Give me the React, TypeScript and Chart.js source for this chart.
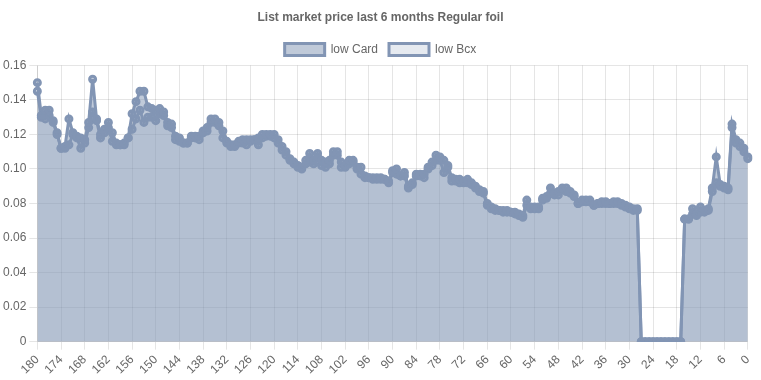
import React, { useEffect, useRef } from "react";
import { Chart, registerables } from "chart.js";

Chart.register(...registerables);

const TITLE = "List market price last 6 months Regular foil";

// days ago, 180 .. 0
const dayLabels: string[] = [];
for (let d = 180; d >= 0; d--) dayLabels.push(String(d));

// low Card, day 180 -> day 0
const lowCard: number[] = [
  0.150, 0.131, 0.134, 0.134, 0.127, 0.120, 0.112, 0.113, 0.129, 0.121, // 180-171
  0.119, 0.118, 0.117, 0.127, 0.152, 0.129, 0.120, 0.123, 0.127, 0.121, // 170-161
  0.115, 0.114, 0.115, 0.118, 0.132, 0.139, 0.145, 0.145, 0.136, 0.135, // 160-151
  0.134, 0.135, 0.133, 0.127, 0.126, 0.119, 0.118, 0.115, 0.115, 0.119, // 150-141
  0.119, 0.119, 0.122, 0.124, 0.129, 0.129, 0.127, 0.122, 0.116, 0.114, // 140-131
  0.114, 0.116, 0.117, 0.117, 0.117, 0.117, 0.118, 0.120, 0.120, 0.120, // 130-121
  0.120, 0.117, 0.113, 0.110, 0.106, 0.104, 0.102, 0.101, 0.105, 0.109, // 120-111
  0.105, 0.109, 0.105, 0.104, 0.105, 0.110, 0.110, 0.104, 0.102, 0.105, // 110-101
  0.105, 0.101, 0.101, 0.096, 0.095, 0.095, 0.095, 0.095, 0.094, 0.093, // 100-91
  0.099, 0.100, 0.096, 0.098, 0.090, 0.092, 0.097, 0.097, 0.097, 0.101, // 90-81
  0.104, 0.108, 0.107, 0.105, 0.102, 0.095, 0.094, 0.094, 0.093, 0.094, // 80-71
  0.092, 0.090, 0.088, 0.087, 0.080, 0.078, 0.077, 0.076, 0.076, 0.076, // 70-61
  0.075, 0.075, 0.074, 0.073, 0.082, 0.078, 0.078, 0.078, 0.083, 0.084, // 60-51
  0.089, 0.086, 0.087, 0.089, 0.089, 0.087, 0.085, 0.080, 0.082, 0.082, // 50-41
  0.082, 0.079, 0.080, 0.081, 0.081, 0.080, 0.081, 0.081, 0.080, 0.079, // 40-31
  0.078, 0.077, 0.077, 0, 0, 0, 0, 0, 0, 0, // 30-21
  0, 0, 0, 0, 0.071, 0.071, 0.077, 0.074, 0.078, 0.076, // 20-11
  0.077, 0.089, 0.107, 0.091, 0.090, 0.089, 0.126, 0.117, 0.115, 0.112, // 10-1
  0.107, // 0
];

// low Bcx, day 180 -> day 0
const lowBcx: number[] = [
  0.145, 0.130, 0.129, 0.131, 0.128, 0.121, 0.112, 0.112, 0.114, 0.120, // 180-171
  0.118, 0.112, 0.115, 0.124, 0.133, 0.128, 0.118, 0.121, 0.124, 0.116, // 170-161
  0.114, 0.114, 0.114, 0.118, 0.123, 0.129, 0.134, 0.127, 0.130, 0.130, // 160-151
  0.128, 0.132, 0.131, 0.125, 0.124, 0.117, 0.116, 0.115, 0.115, 0.118, // 150-141
  0.118, 0.117, 0.121, 0.122, 0.127, 0.127, 0.125, 0.118, 0.115, 0.113, // 140-131
  0.113, 0.115, 0.115, 0.114, 0.116, 0.117, 0.114, 0.118, 0.119, 0.119, // 130-121
  0.118, 0.115, 0.111, 0.108, 0.105, 0.103, 0.101, 0.100, 0.103, 0.104, // 120-111
  0.103, 0.107, 0.102, 0.101, 0.103, 0.108, 0.108, 0.101, 0.101, 0.103, // 110-101
  0.104, 0.100, 0.097, 0.095, 0.095, 0.094, 0.094, 0.094, 0.094, 0.092, // 100-91
  0.098, 0.097, 0.096, 0.096, 0.089, 0.091, 0.096, 0.096, 0.095, 0.100, // 90-81
  0.102, 0.105, 0.105, 0.098, 0.101, 0.093, 0.093, 0.092, 0.092, 0.092, // 80-71
  0.091, 0.089, 0.087, 0.086, 0.079, 0.077, 0.076, 0.076, 0.075, 0.075, // 70-61
  0.075, 0.074, 0.073, 0.072, 0.079, 0.077, 0.077, 0.077, 0.082, 0.083, // 60-51
  0.086, 0.085, 0.085, 0.088, 0.087, 0.086, 0.084, 0.080, 0.081, 0.081, // 50-41
  0.081, 0.079, 0.080, 0.080, 0.080, 0.080, 0.080, 0.080, 0.079, 0.078, // 40-31
  0.077, 0.076, 0.076, 0, 0, 0, 0, 0, 0, 0, // 30-21
  0, 0, 0, 0, 0.071, 0.071, 0.074, 0.073, 0.075, 0.075, // 20-11
  0.076, 0.087, 0.092, 0.090, 0.089, 0.088, 0.124, 0.115, 0.113, 0.110, // 10-1
  0.106, // 0
];

const LINE = "rgb(130,149,180)";

export default function App() {
  const ref = useRef<HTMLCanvasElement | null>(null);
  useEffect(() => {
    document.body.style.margin = "0";
    if (!ref.current) return;
    const chart = new Chart(ref.current, {
      type: "line",
      data: {
        labels: dayLabels,
        datasets: [
          {
            label: "low Card",
            data: lowCard,
            borderColor: LINE,
            backgroundColor: "rgba(130,149,180,0.5)",
            borderWidth: 3,
            pointRadius: 3,
            pointBorderWidth: 3,
            pointBackgroundColor: "rgba(130,149,180,0.5)",
            fill: "origin",
            tension: 0,
          },
          {
            label: "low Bcx",
            data: lowBcx,
            borderColor: LINE,
            backgroundColor: "rgba(130,149,180,0.2)",
            borderWidth: 3,
            pointRadius: 3,
            pointBorderWidth: 3,
            pointBackgroundColor: "rgba(130,149,180,0.2)",
            fill: "origin",
            tension: 0,
          },
        ],
      },
      options: {
        responsive: true,
        maintainAspectRatio: false,
        animation: false,
        plugins: {
          title: {
            display: true,
            text: TITLE,
            color: "#666",
            font: { size: 12, weight: "bold" },
            padding: { top: 10, bottom: 8 },
          },
          legend: {
            labels: { color: "#666", font: { size: 12 }, padding: 11 },
          },
          tooltip: { enabled: false },
        },
        scales: {
          x: {
            ticks: {
              color: "#666",
              autoSkip: false,
              minRotation: 45,
              maxRotation: 45,
              callback: (_v: any, i: number) =>
                i % 6 === 0 ? dayLabels[i] : null,
            },
          },
          y: {
            min: 0,
            max: 0.16,
            ticks: { color: "#666", stepSize: 0.02 },
          },
        },
      },
    });
    return () => chart.destroy();
  }, []);
  return (
    <div style={{ width: 761, height: 380, position: "relative" }}>
      <canvas ref={ref} />
    </div>
  );
}
